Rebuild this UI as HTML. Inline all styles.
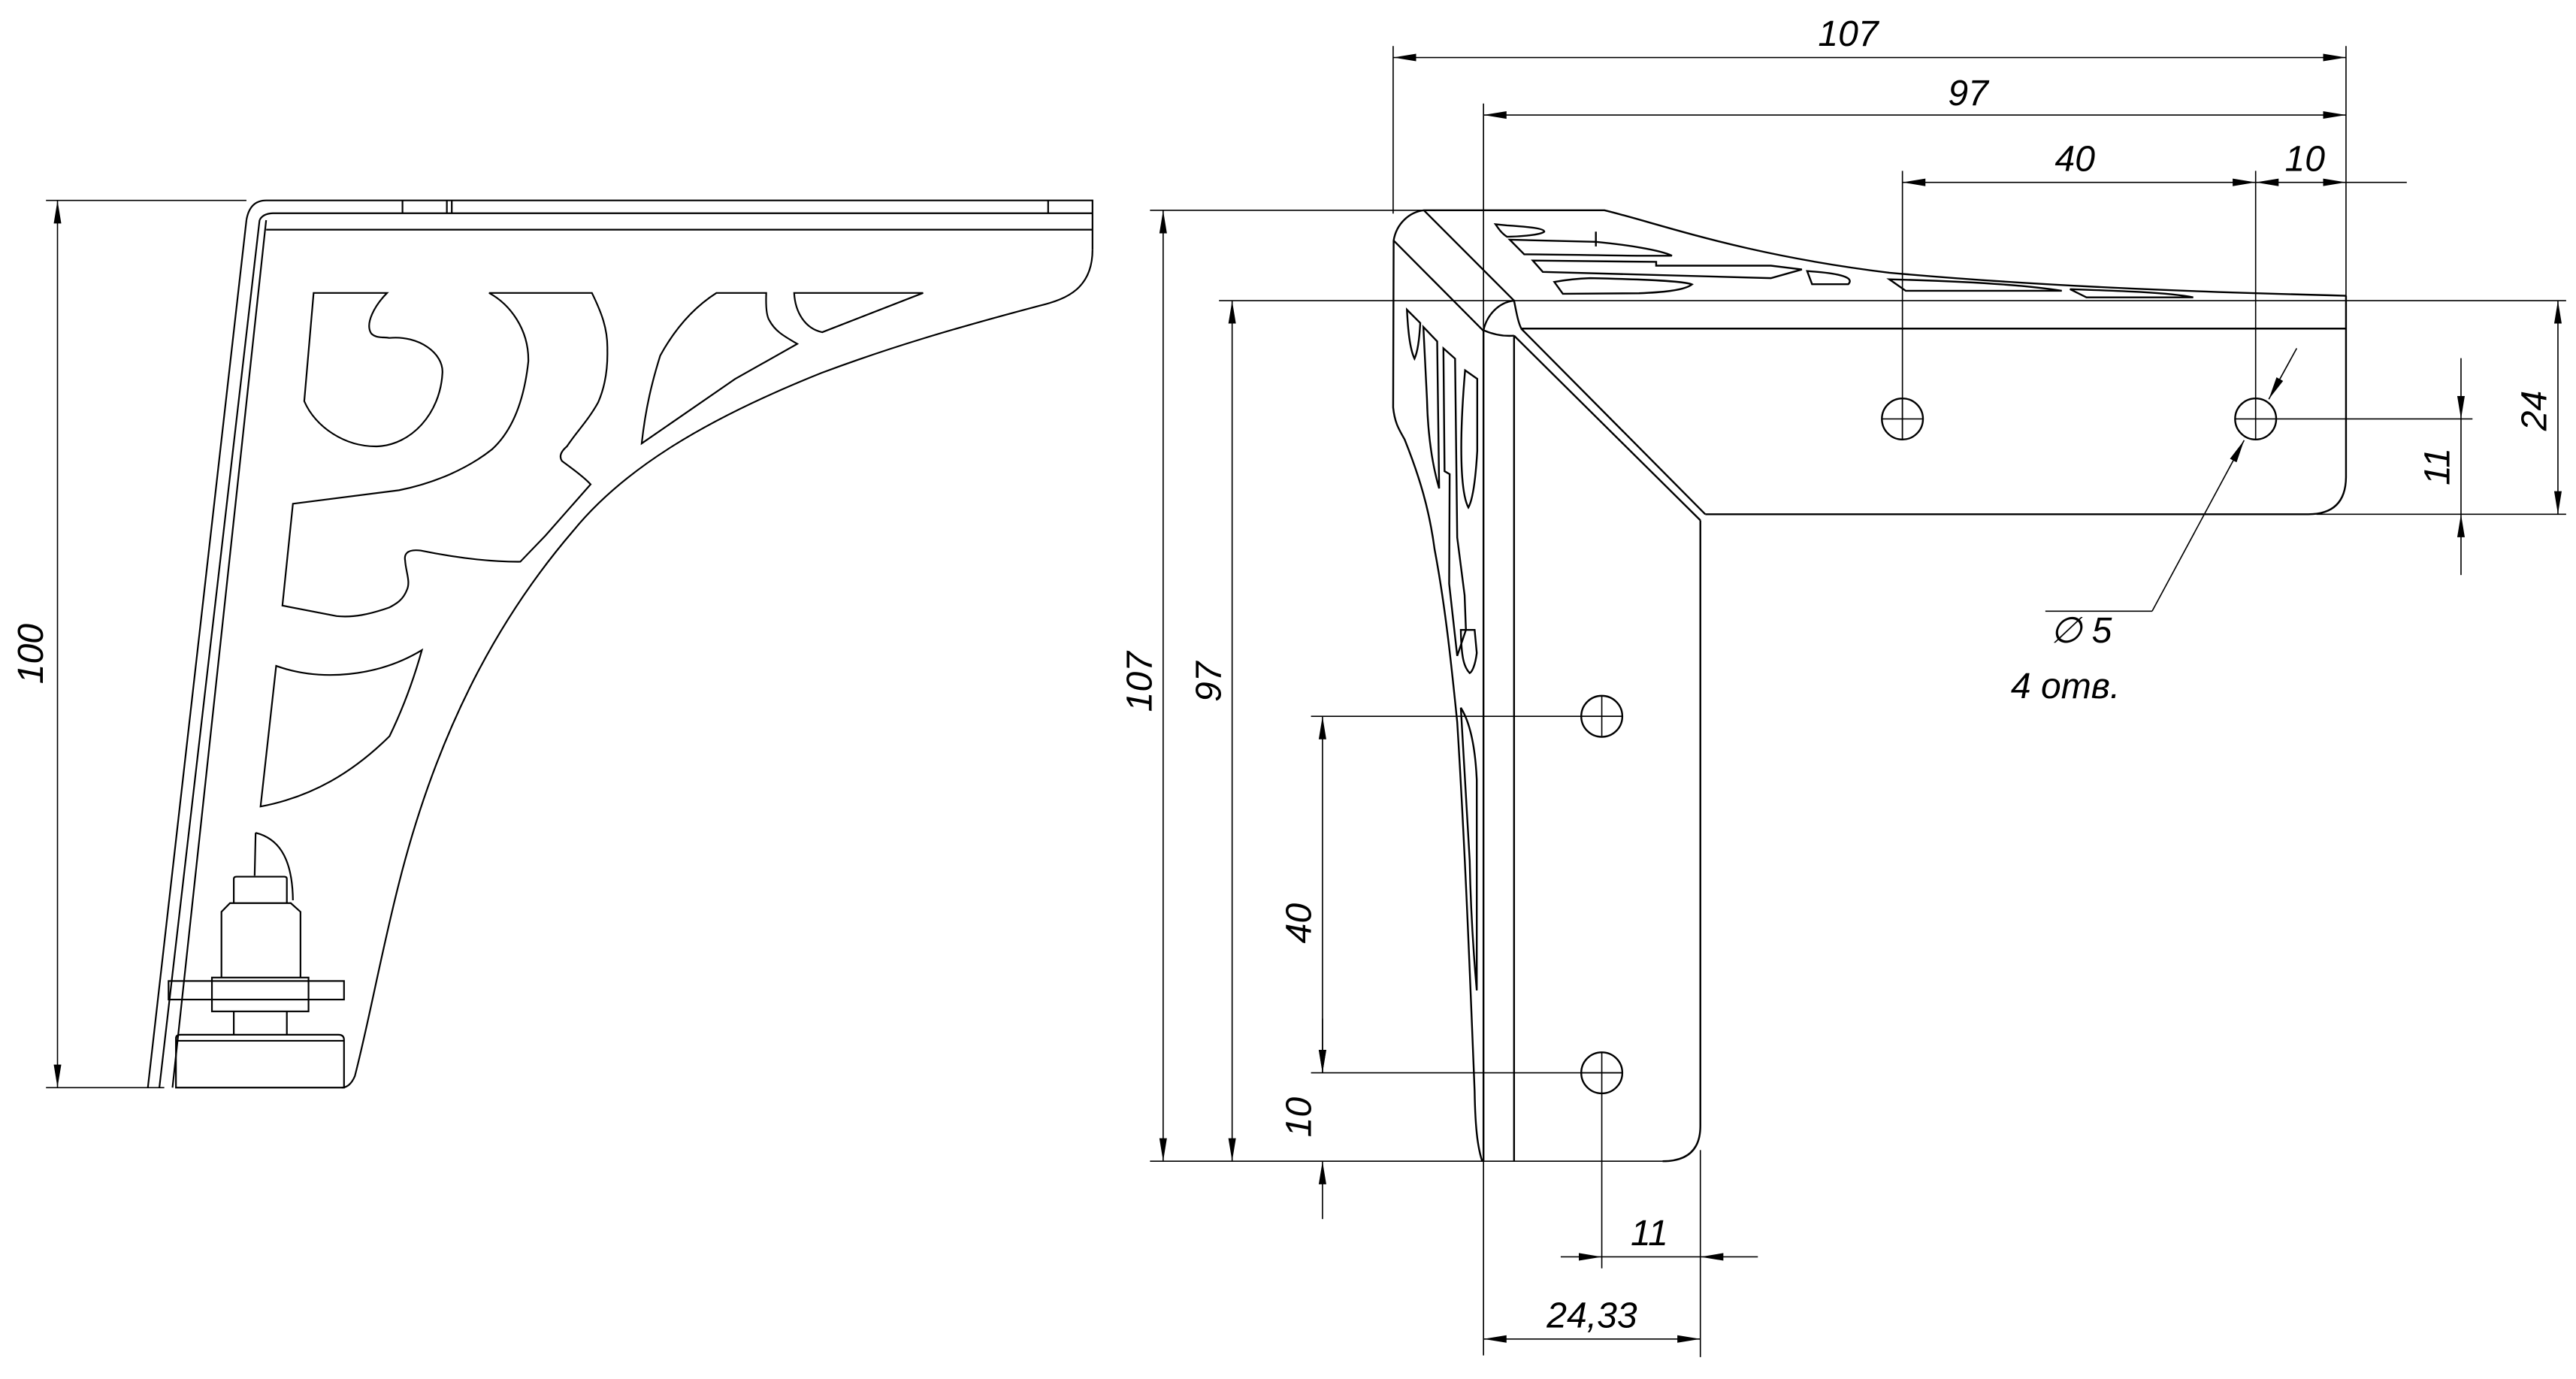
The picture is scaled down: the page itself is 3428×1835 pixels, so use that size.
<!DOCTYPE html>
<html><head><meta charset="utf-8"><style>
html,body{margin:0;padding:0;background:#fff}
svg{display:block}
text{font-family:"Liberation Sans",sans-serif;font-style:italic;font-size:22px;fill:#000}
</style></head><body>
<svg width="3428" height="1835" viewBox="0 0 1568 839.35" preserveAspectRatio="none" xmlns="http://www.w3.org/2000/svg">
<defs>
<marker id="a" markerUnits="userSpaceOnUse" markerWidth="16" markerHeight="8" refX="14" refY="0" viewBox="0 -4 16 8" orient="auto-start-reverse"><path d="M0,-2.3 L14,0 L0,2.3 z" fill="#000"/></marker>
</defs>
<g fill="none" stroke="#000" stroke-width="0.75">
<!-- LEFT VIEW dims -->
<line x1="28" y1="122" x2="150" y2="122"/>
<line x1="28" y1="662" x2="100" y2="662"/>
<line x1="35" y1="122" x2="35" y2="662" marker-start="url(#a)" marker-end="url(#a)"/>
</g>
<g fill="none" stroke="#000" stroke-width="1">
<!-- top plate -->
<path d="M150,134 Q152,122 162,122 L665,122 L665,152"/>
<path d="M158,134 Q160,130 166,129.8 L665,129.8"/>
<line x1="162" y1="139.8" x2="665" y2="139.8"/>
<line x1="245" y1="122" x2="245" y2="129.8"/><line x1="272" y1="122" x2="272" y2="129.8"/><line x1="275" y1="122" x2="275" y2="129.8"/><line x1="638" y1="122" x2="638" y2="129.8"/>
<!-- back wall -->
<path d="M150,134 L90,662"/>
<path d="M158,134 L97,662"/>
<path d="M162,134 L105,662"/>
<!-- outer profile -->
<path d="M665,152 C665,175 650,182 633,186 C580,200 540,212 500,227 C430,255 380,285 349,323 C300,380 265,450 243,537 C232,580 225,620 216,655 Q213,662 208,662"/>
<!-- cutouts -->
<path d="M190.9,178.3 L235.6,178.3 C228,186 222,197 226,203 C229,206 233,205 237,205.7 C255,204 270,215 269.3,227 C268,252 250,271 229.5,271.7 C210,272 192,260 185.2,244.2 Z"/>
<path d="M297.7,178.3 L360.3,178.3 C366,190 370,200 369.7,212.9 C370,225 368,236 364.1,244.9 C358,256 350,264 345.1,271.7 C340,276 341,279 342.1,280.6 C348,285 355,290 359.5,294.8 L332,326 L316.7,341.9 C300,342 280,340 256,335.1 C247,334 246,338 246.6,341.2 C247,348 250,354 247.7,359 C245,366 240,368 237.1,369.7 C225,374 215,376 204.9,375 L171.9,368.6 L178.3,306.6 L242.8,298.4 C265,294 285,285 299.6,273.4 C312,262 319,244 321.6,220 C322,200 310,185 297.7,178.3 Z"/>
<path d="M436.1,178.3 L466.4,178.3 C466,188 467,193 468.3,195 C472,202 478,205 485.3,209.3 L447.4,230.7 L390.6,269.9 C393,248 397,232 401.9,216.4 C412,198 424,186 436.1,178.3 Z"/>
<path d="M483.4,178.3 L561.9,178.3 L500.5,202.2 C490,200 484,190 483.4,178.3 Z"/>
<path d="M168.1,405.3 C195,415 230,412 256.8,395.7 C250,420 242,438 237.1,448.1 C215,470 190,485 158.6,490.9 Z"/>
<path d="M155.6,506.9 C168,510 178,520 178.3,548"/>
<line x1="155.6" y1="506.9" x2="155" y2="533"/>
<!-- foot -->
<path d="M142.3,549.7 L142.3,535 Q142.3,533.6 144,533.6 L173,533.6 Q174.6,533.6 174.6,535 L174.6,549.7"/>
<path d="M134.8,595 L134.8,555 L140,549.7 L177,549.7 L182.9,555 L182.9,595"/>
<rect x="129" y="595" width="58.8" height="20.6"/>
<rect x="102.6" y="597.1" width="106.8" height="11.3"/>
<line x1="142.3" y1="615.6" x2="142.3" y2="629.8"/><line x1="174.6" y1="615.6" x2="174.6" y2="629.8"/>
<path d="M107.1,662 L107.1,632 Q107.1,629.8 110,629.8 L206,629.8 Q209.4,629.8 209.4,633 L209.4,662 Z"/>
<line x1="107.1" y1="633.5" x2="209.4" y2="633.5"/>
</g>

<!-- RIGHT VIEW thin dims -->
<g fill="none" stroke="#000" stroke-width="0.75">
<line x1="848" y1="28" x2="848" y2="130"/>
<line x1="1428" y1="28" x2="1428" y2="186"/>
<line x1="848" y1="35" x2="1428" y2="35" marker-start="url(#a)" marker-end="url(#a)"/>
<line x1="903" y1="63" x2="903" y2="825"/>
<line x1="903" y1="70" x2="1428" y2="70" marker-start="url(#a)" marker-end="url(#a)"/>
<line x1="1158" y1="104" x2="1158" y2="268"/>
<line x1="1373" y1="104" x2="1373" y2="268"/>
<line x1="1158" y1="111" x2="1373" y2="111" marker-start="url(#a)" marker-end="url(#a)"/>
<line x1="1373" y1="111" x2="1428" y2="111" marker-start="url(#a)" marker-end="url(#a)"/>
<line x1="1428" y1="111" x2="1465" y2="111"/>
<line x1="700" y1="128" x2="866" y2="128"/>
<line x1="742" y1="183" x2="1562" y2="183"/>
<line x1="700" y1="706.8" x2="1012" y2="706.8"/>
<line x1="708" y1="128" x2="708" y2="706.8" marker-start="url(#a)" marker-end="url(#a)"/>
<line x1="750" y1="183" x2="750" y2="706.8" marker-start="url(#a)" marker-end="url(#a)"/>
<line x1="1410" y1="313" x2="1562" y2="313"/>
<line x1="1385" y1="255" x2="1505" y2="255"/>
<line x1="1557" y1="183" x2="1557" y2="313" marker-start="url(#a)" marker-end="url(#a)"/>
<line x1="1498" y1="218" x2="1498" y2="255" marker-end="url(#a)"/>
<line x1="1498" y1="350" x2="1498" y2="313" marker-end="url(#a)"/>
<line x1="1498" y1="255" x2="1498" y2="313"/>
<line x1="798" y1="436" x2="988" y2="436"/>
<line x1="798" y1="653" x2="988" y2="653"/>
<line x1="805" y1="436" x2="805" y2="653" marker-start="url(#a)" marker-end="url(#a)"/>
<line x1="805" y1="620" x2="805" y2="653" marker-end="url(#a)"/>
<line x1="805" y1="742" x2="805" y2="706.8" marker-end="url(#a)"/>
<line x1="975" y1="424" x2="975" y2="448"/>
<line x1="963" y1="436" x2="987" y2="436"/>
<line x1="975" y1="641" x2="975" y2="772"/>
<line x1="963" y1="653" x2="987" y2="653"/>
<line x1="1146" y1="255" x2="1170" y2="255"/><line x1="1158" y1="243" x2="1158" y2="267"/>
<line x1="1361" y1="255" x2="1385" y2="255"/>
<line x1="1035" y1="700" x2="1035" y2="826"/>
<line x1="950" y1="765" x2="975" y2="765" marker-end="url(#a)"/>
<line x1="1070" y1="765" x2="1035" y2="765" marker-end="url(#a)"/>
<line x1="975" y1="765" x2="1035" y2="765"/>
<line x1="903" y1="815" x2="1035" y2="815" marker-start="url(#a)" marker-end="url(#a)"/>
<!-- leader -->
<line x1="1398" y1="212" x2="1381" y2="243" marker-end="url(#a)"/>
<line x1="1310" y1="372" x2="1366" y2="268" marker-end="url(#a)"/>
<line x1="1310" y1="372" x2="1245" y2="372"/>
</g>
<!-- RIGHT VIEW part -->
<g fill="none" stroke="#000" stroke-width="1.1">
<circle cx="1158" cy="255" r="12.5"/>
<circle cx="1373" cy="255" r="12.5"/>
<circle cx="975" cy="436" r="12.5"/>
<circle cx="975" cy="653" r="12.5"/>
<!-- top face -->
<path d="M848.3,146.4 C850,136 858,129 866.7,128 L976.6,128 C1010,136 1060,155 1150,166 C1250,175 1350,178 1428,180"/>
<line x1="866.7" y1="128" x2="921.6" y2="183"/>
<line x1="848.3" y1="146.4" x2="903" y2="201.4"/>
<path d="M903,201 C905,192 912,184 921.6,183 C923,190 924,196 926,200"/>
<path d="M903,201 Q912,205 921.6,204.3"/>
<line x1="926" y1="200" x2="1428" y2="200"/>
<line x1="1428" y1="180" x2="1428" y2="290"/>
<path d="M1428,290 Q1428,313 1405,313 L1038,313"/>
<line x1="925.9" y1="200" x2="1038" y2="313"/>
<line x1="921.6" y1="204.3" x2="1035" y2="316.7"/>
<line x1="921.6" y1="204.3" x2="921.6" y2="706.8"/>
<line x1="903" y1="201" x2="903" y2="706.8"/>
<path d="M1035,316.7 L1035,685.3 Q1035,706.8 1012,706.8"/>
<!-- left profile -->
<path d="M848.3,146.4 L848,248 C849,258 852,262 855,267.5 C864,290 870,310 873.2,334.2 C880,370 884,410 887,439.5 C892,520 895,600 897.6,664.2 C898,690 900,700 902.2,706.8"/>
<path d="M856.4,188.5 L864.5,196.6 C864,206 863,214 861,218.3 C858,212 857,200 856.4,188.5 Z"/>
<path d="M866.4,199 L874.8,207.8 L876,297.3 C871,280 869,260 868.6,243 Z"/>
<path d="M878.6,212 L885.7,218.3 L887,327.2 L891.5,362.3 L892.3,383.4 L887,399.2 L882.1,355.3 L882.4,288.6 L879.3,286.8 Z"/>
<path d="M891.8,225.4 L899.2,230.6 L899.2,274.5 C898,295 896,305 893.8,308.9 C889,300 888,270 891.8,225.4 Z"/>
<path d="M889.2,383.4 L897.6,383.4 L898.9,397.4 C898,405 896,409 894.6,409.7 C891,406 889.5,400 889.2,383.4 Z"/>
<path d="M889.2,430.8 C895,440 898,455 898.9,474.6 L898.9,602.8 C896,570 895,545 894.6,523.8 Z"/>
<!-- top cutouts -->
<path d="M910.3,136.5 L917.3,137.2 C930,138 940,139 940,141 C938,143 925,144 917.3,144.1 C914,142 912,139 910.3,136.5 Z"/>
<path d="M919,145.9 L971.4,147.2 C990,149 1010,152 1017.7,155.6 C1000,156 960,155 927.8,154.8 Z"/>
<path d="M933,158.6 L1008.1,159.4 L1008.1,161.7 L1077.9,161.7 L1096.8,164 L1077.9,169.3 L939.1,165.5 Z"/>
<path d="M946.1,171.6 C955,170 962,169.5 967.9,169.3 C1000,170 1025,171 1029.9,173.1 C1025,177 1010,178 997.6,178.5 L951.3,178.8 Z"/>
<path d="M1100,165 C1115,166 1130,168 1125,173 L1103,173 Z"/>
<path d="M1150,170 C1190,171 1230,173 1255,177 L1160,177 Z"/>
<path d="M1260,176 C1290,177 1320,178 1335,181 L1270,181 Z"/>
<line x1="971.4" y1="141" x2="971.4" y2="150"/>
</g>
<!-- labels -->
<text x="1125" y="28" text-anchor="middle">107</text>
<text x="1198" y="64" text-anchor="middle">97</text>
<text x="1263" y="104" text-anchor="middle">40</text>
<text x="1403" y="104" text-anchor="middle">10</text>
<text transform="translate(26,398) rotate(-90)" text-anchor="middle">100</text>
<text transform="translate(701,415) rotate(-90)" text-anchor="middle">107</text>
<text transform="translate(743,415) rotate(-90)" text-anchor="middle">97</text>
<text transform="translate(1550,250) rotate(-90)" text-anchor="middle">24</text>
<text transform="translate(1491,284) rotate(-90)" text-anchor="middle">11</text>
<text transform="translate(798,562) rotate(-90)" text-anchor="middle">40</text>
<text transform="translate(798,680) rotate(-90)" text-anchor="middle">10</text>
<text x="1004" y="758" text-anchor="middle">11</text>
<text x="969" y="808" text-anchor="middle">24,33</text>
<text x="1248" y="391">∅ 5</text>
<text x="1224" y="425">4 отв.</text>
</svg>
</body></html>
